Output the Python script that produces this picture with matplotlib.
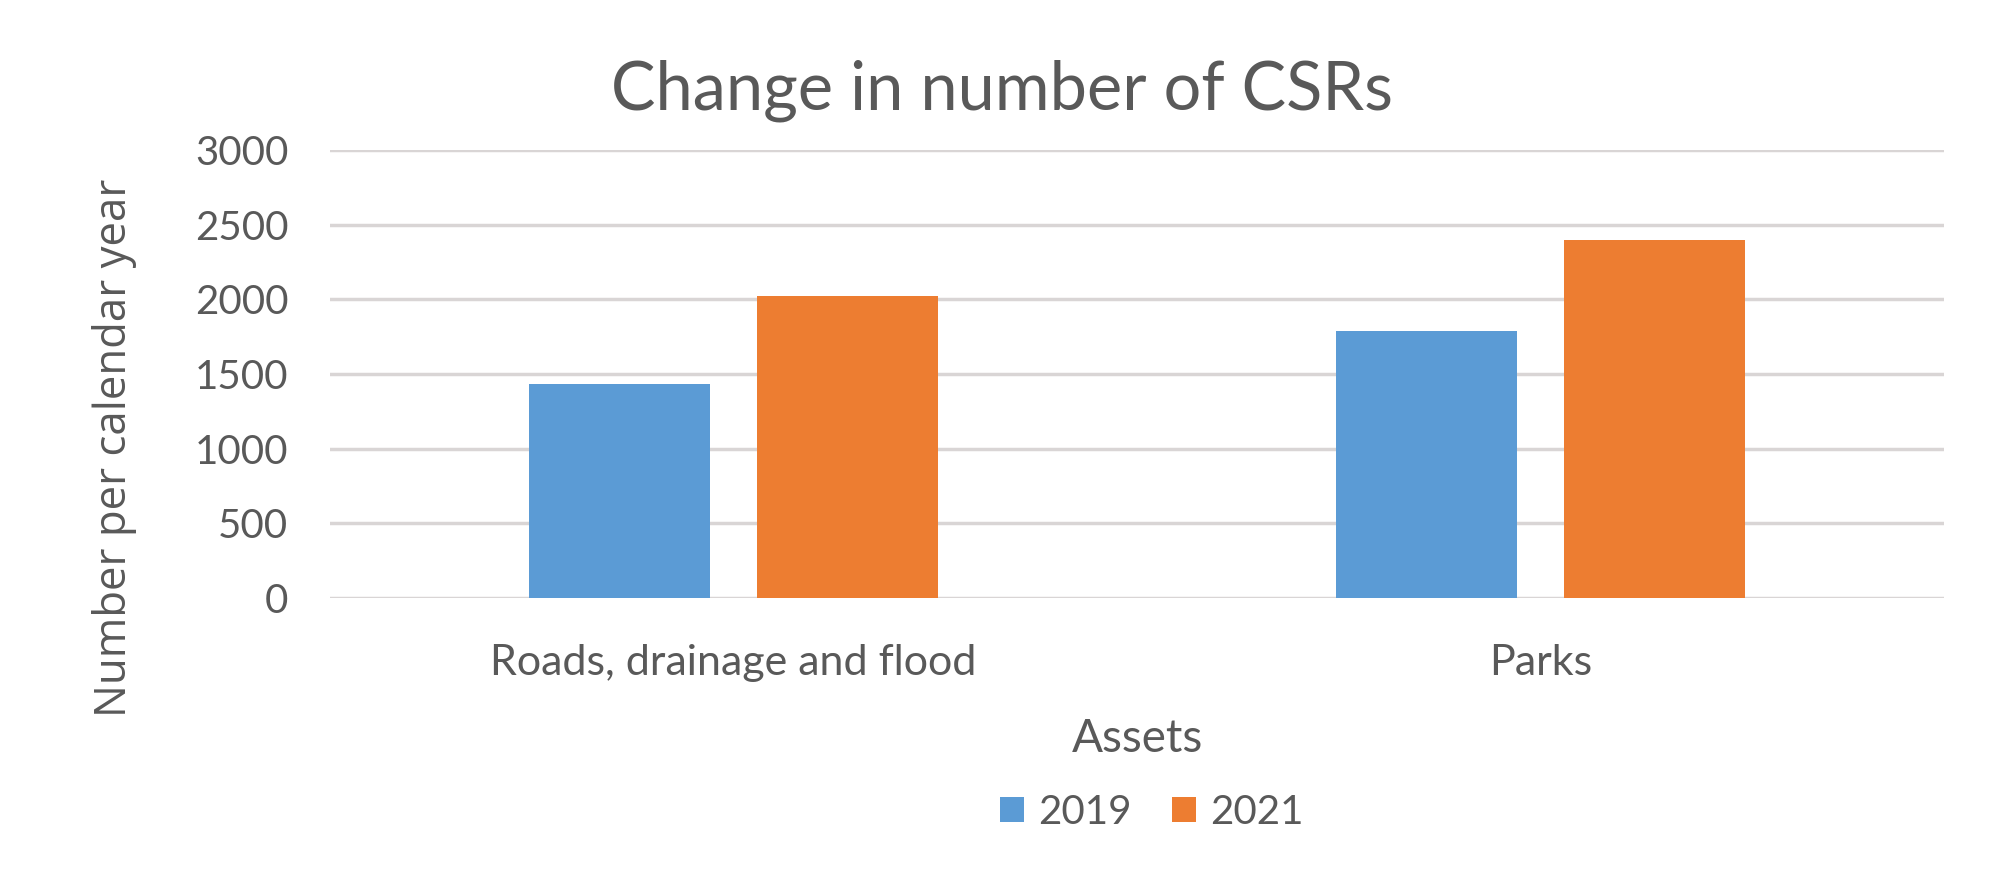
import matplotlib
matplotlib.use('Agg')
import numpy as np
import matplotlib.pyplot as plt

categories = ['Roads, drainage and flood', 'Parks']
years = ['2019', '2021']
values_2019 = [1430, 1790]
values_2021 = [2020, 2400]
yticks = [0, 500, 1000, 1500, 2000, 2500, 3000]

blue = '#5B9BD5'
orange = '#ED7D31'
grey = '#595959'
gridc = '#D9D5D5'

plt.rcParams['font.family'] = ['Lato', 'DejaVu Sans']

fig = plt.figure(figsize=(20.08, 8.72), dpi=100)
ax = fig.add_axes([330 / 2008, 1 - 598 / 872, 1614 / 2008, 448 / 872])

x = np.arange(len(categories))
w = 0.224
off = 0.141
ax.bar(x - off, values_2019, w, color=blue, label=years[0], zorder=3)
ax.bar(x + off, values_2021, w, color=orange, label=years[1], zorder=3)

ax.set_xlim(-0.5, 1.5)
ax.set_ylim(0, 3000)
ax.set_yticks(yticks)
ax.set_yticklabels([str(v) for v in yticks])
ax.set_xticks(x)
ax.set_xticklabels(categories)
for s in ax.spines.values():
    s.set_visible(False)
ax.yaxis.grid(True, color=gridc, linewidth=2.5, zorder=0)
ax.set_axisbelow(True)
ax.tick_params(axis='y', length=0, pad=30, labelsize=29, labelcolor=grey)
ax.tick_params(axis='x', length=0, pad=33, labelsize=31, labelcolor=grey)

fig.text(1002 / 2008, 1 - 109 / 872, 'Change in number of CSRs', ha='center',
         va='baseline', fontsize=48, color=grey)
fig.text(1137 / 2008, 1 - 739 / 872, 'Assets', ha='center', va='center',
         fontsize=33, color=grey)
fig.text(115 / 2008, 1 - 448 / 872, 'Number per calendar year', ha='center',
         va='center', rotation=90, fontsize=31.5, color=grey, family='Open Sans')

fig.legend(loc='center', bbox_to_anchor=(1152 / 2008, 1 - 812 / 872), ncol=2,
           frameon=False, fontsize=29, labelcolor=grey, handlelength=0.6,
           handleheight=0.6, handletextpad=0.35, columnspacing=1.0)

fig.savefig('out.png', dpi=100, facecolor='white')
